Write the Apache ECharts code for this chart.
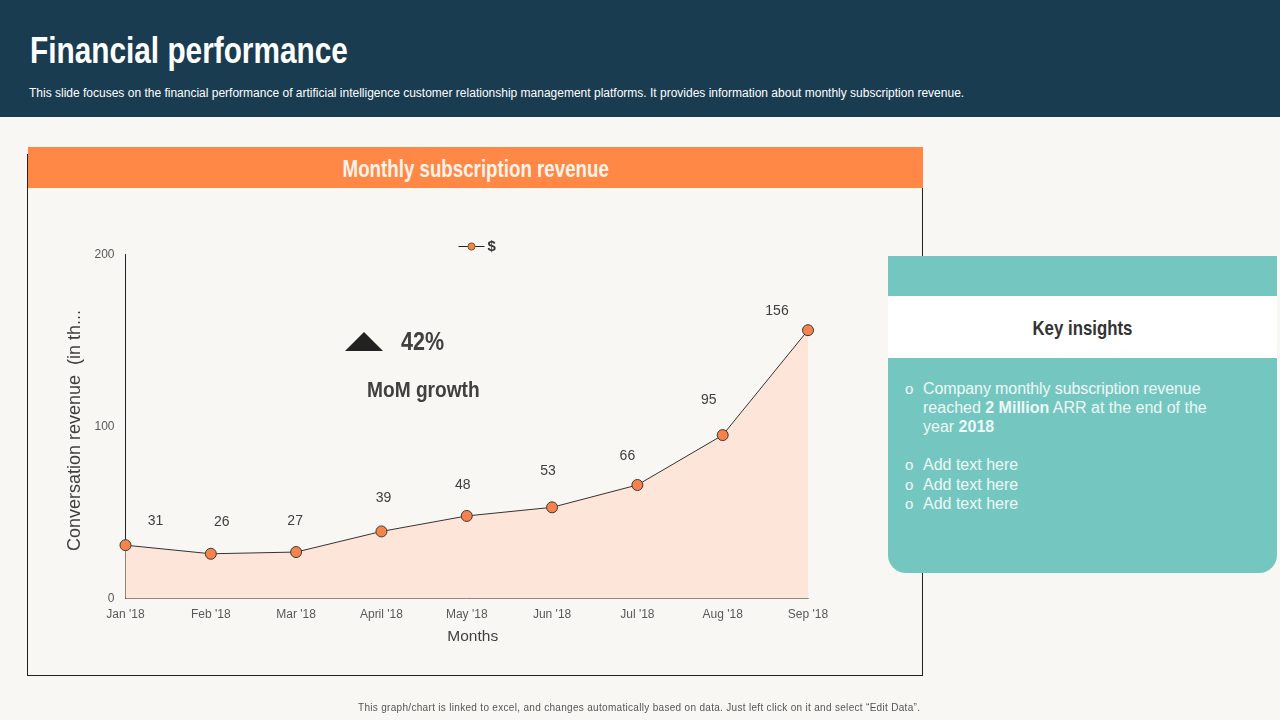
<!DOCTYPE html>
<html>

<head>
    <meta charset="utf-8">
    <title>Financial performance</title>
    <script src="https://cdn.jsdelivr.net/npm/echarts@6/dist/echarts.min.js"></script>
    <style>
        html, body {
            margin: 0;
            padding: 0;
            width: 1280px;
            height: 720px;
            overflow: hidden;
            background: #f8f7f3;
            font-family: "Liberation Sans", Arial, sans-serif;
        }

        .abs {
            position: absolute;
            white-space: nowrap;
        }

        /* no condensed face installed, so squeeze the bold one */
        .narrow {
            display: inline-block;
            font-weight: bold;
            transform-origin: center;
        }

        #header {
            left: 0;
            top: 0;
            width: 1280px;
            height: 117px;
            background: #1a3c50;
        }

        #title {
            left: 30px;
            top: 31px;
            font-size: 37px;
            line-height: 40px;
            color: #fff;
            font-weight: bold;
            transform: scaleX(0.805);
            transform-origin: left center;
        }

        #subtitle {
            left: 29px;
            top: 86px;
            font-size: 12px;
            line-height: 15px;
            color: #fff;
        }

        #chart-frame {
            left: 27px;
            top: 154px;
            width: 894px;
            height: 520px;
            border: 1px solid #222;
        }

        #chart-head {
            left: 28px;
            top: 147px;
            width: 895px;
            height: 41px;
            line-height: 44px;
            background: #ff8847;
            color: #fdf3ea;
            font-size: 24px;
            text-align: center;
        }

        #chart-head .narrow {
            transform: scaleX(0.78);
        }

        #chart {
            left: 0;
            top: 0;
            width: 1280px;
            height: 720px;
        }

        #panel {
            left: 888px;
            top: 256px;
            width: 389px;
            height: 317px;
            background: #74c7c0;
            border-radius: 0 0 18px 18px;
        }

        #panel-head {
            left: 888px;
            top: 296px;
            width: 389px;
            height: 62px;
            line-height: 64px;
            background: #fff;
            color: #333;
            font-size: 21px;
            text-align: center;
        }

        #panel-head .narrow {
            transform: scaleX(0.8);
        }

        .line {
            font-size: 16px;
            line-height: 20px;
            color: #eef8f6;
        }

        .bullet {
            left: 905px;
            width: 10px;
            height: 20px;
            font-size: 15px;
            line-height: 20px;
            color: #eef8f6;
        }

        #footer {
            left: 358px;
            top: 701px;
            font-size: 10px;
            line-height: 14px;
            color: #555;
            letter-spacing: 0.31px;
        }
    </style>
</head>

<body>
    <div class="abs" id="header"></div>
    <div class="abs" id="title">Financial performance</div>
    <div class="abs" id="subtitle">This slide focuses on the financial performance of artificial intelligence customer relationship management platforms. It provides information about monthly subscription revenue.</div>

    <div class="abs" id="chart-frame"></div>
    <div class="abs" id="chart-head"><span class="narrow">Monthly subscription revenue</span></div>
    <div class="abs" id="chart"></div>

    <div class="abs" id="panel"></div>
    <div class="abs" id="panel-head"><span class="narrow">Key insights</span></div>

    <div class="abs bullet" style="top:379px">o</div>
    <div class="abs line" style="left:923px;top:379px;letter-spacing:-0.1px">Company monthly subscription revenue</div>
    <div class="abs line" style="left:923px;top:398px">reached <b>2 Million</b> ARR at the end of the</div>
    <div class="abs line" style="left:923px;top:417px">year <b>2018</b></div>
    <div class="abs bullet" style="top:455px">o</div>
    <div class="abs line" style="left:923px;top:455px">Add text here</div>
    <div class="abs bullet" style="top:475px">o</div>
    <div class="abs line" style="left:923px;top:475px">Add text here</div>
    <div class="abs bullet" style="top:494px">o</div>
    <div class="abs line" style="left:923px;top:494px">Add text here</div>

    <div class="abs" id="footer">This graph/chart is linked to excel, and changes automatically based on data. Just left click on it and select “Edit Data”.</div>

    <script>
        // chart data
        var months = ['Jan \'18', 'Feb \'18', 'Mar \'18', 'April \'18', 'May \'18', 'Jun \'18', 'Jul \'18', 'Aug \'18', 'Sep \'18'];
        var revenue = [31, 26, 27, 39, 48, 53, 66, 95, 156];
        var yTicks = [0, 100, 200];

        // the value labels sit off their points by hand in the original
        var labelShift = [[30, -6], [11, -14], [-1, -13], [2, -15], [-4, -13], [-4, -18], [-10, -11], [-14, -17], [-31, -1]];

        var myChart = echarts.init(document.getElementById('chart'), null, { renderer: 'canvas' });

        myChart.setOption({
            backgroundColor: 'transparent',
            animation: false,
            textStyle: { fontFamily: '"Liberation Sans", Arial, sans-serif' },
            legend: {
                left: 453,
                top: 234,
                itemWidth: 26,
                itemHeight: 9,
                itemGap: 4,
                lineStyle: { width: 1, color: '#222' },
                itemStyle: { color: '#e8894e', borderColor: '#8a4a20', borderWidth: 1 },
                textStyle: { color: '#333', fontSize: 15, fontWeight: 'bold', padding: [0, 0, 0, -2] },
                data: [{ name: '$' }]
            },
            grid: { left: 125.5, right: 472, top: 254.5, bottom: 121.5 },
            xAxis: {
                type: 'category',
                data: months,
                boundaryGap: false,
                name: 'Months',
                nameLocation: 'middle',
                nameGap: 30,
                nameTextStyle: { color: '#404040', fontSize: 15.5, padding: [0, 0, 0, 12] },
                axisLine: { lineStyle: { color: '#222', width: 1 } },
                axisTick: { show: false },
                axisLabel: { color: '#595959', fontSize: 12, margin: 10, interval: 0 },
                splitLine: { show: false }
            },
            yAxis: {
                type: 'value',
                min: yTicks[0],
                max: yTicks[2],
                interval: yTicks[1] - yTicks[0],
                name: 'Conversation revenue  (in th...',
                nameLocation: 'middle',
                nameRotate: 90,
                nameGap: 30,
                nameTextStyle: { color: '#404040', fontSize: 18, padding: [0, 8, 0, 0] },
                axisLine: { show: true, lineStyle: { color: '#222', width: 1 } },
                axisTick: { show: false },
                axisLabel: { color: '#595959', fontSize: 12, margin: 11 },
                splitLine: { show: false }
            },
            series: [{
                name: '$',
                type: 'line',
                data: revenue.map(function (v, i) {
                    return { value: v, label: { offset: labelShift[i] } };
                }),
                symbol: 'circle',
                symbolSize: 11,
                showAllSymbol: true,
                lineStyle: { color: '#333', width: 1 },
                itemStyle: { color: '#f5834a', borderColor: '#3a3a3a', borderWidth: 1 },
                areaStyle: { color: '#fde5da', opacity: 1 },
                label: { show: true, position: 'top', color: '#404040', fontSize: 14 }
            }],
            graphic: [
                {
                    type: 'polygon',
                    shape: { points: [[345, 351], [383, 351], [364, 332]] },
                    style: { fill: '#222' }
                },
                {
                    type: 'text',
                    x: 401,
                    y: 331,
                    scaleX: 0.86,
                    style: { text: '42%', fill: '#404040', font: 'bold 25px "Liberation Sans"' }
                },
                {
                    type: 'text',
                    x: 367,
                    y: 380,
                    scaleX: 0.87,
                    style: { text: 'MoM growth', fill: '#404040', font: 'bold 22px "Liberation Sans"' }
                }
            ]
        });
    </script>
</body>

</html>
